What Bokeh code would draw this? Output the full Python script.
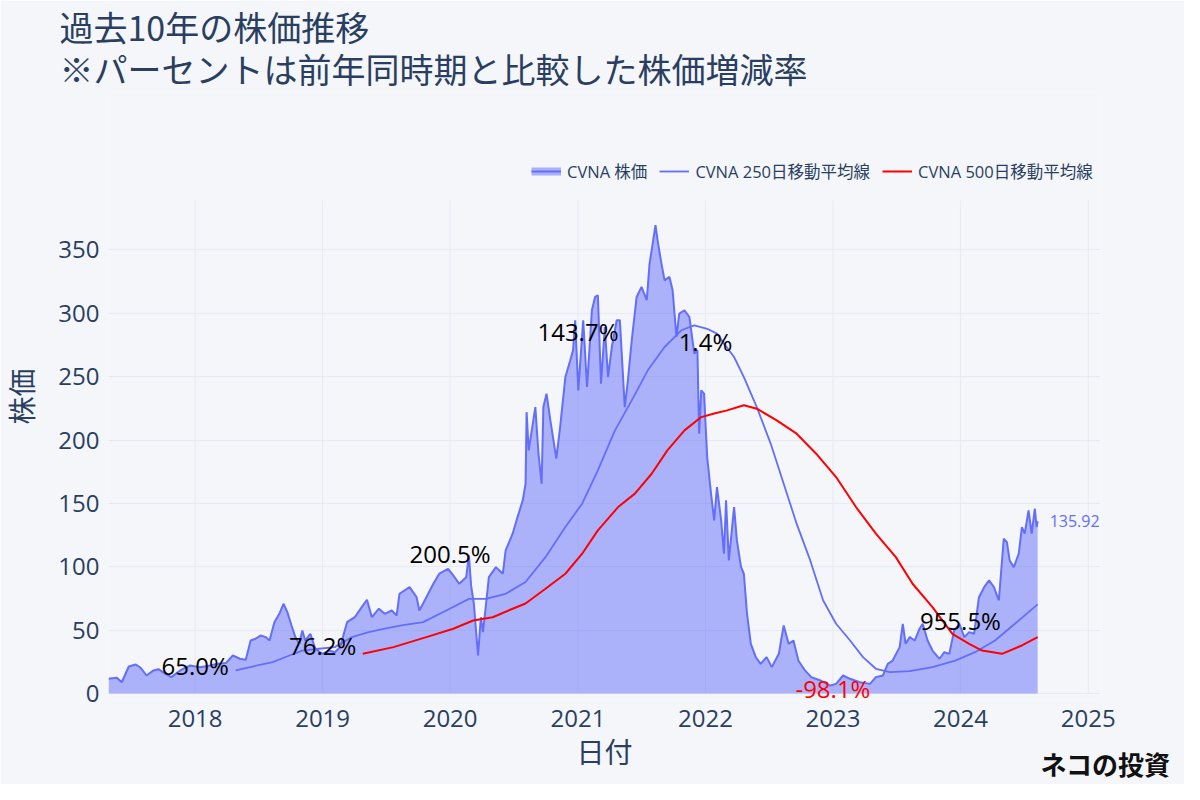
import pandas as pd
from bokeh.plotting import figure
from bokeh.models import (Range1d, FixedTicker, DatetimeTickFormatter, Label, Title,
                          Legend, LegendItem, ColumnDataSource)
from bokeh.embed import file_html
from bokeh.resources import INLINE

# ---------------- data ----------------
price_dates = [
    "2017-04-28","2017-05-22","2017-06-05","2017-06-25","2017-07-15","2017-07-29","2017-08-15","2017-09-04","2017-09-18","2017-10-08","2017-10-25","2017-11-19","2017-12-18",
    "2018-01-15","2018-02-13","2018-03-07","2018-03-30","2018-04-19","2018-05-09","2018-05-26","2018-06-09","2018-06-23","2018-07-08","2018-07-22","2018-08-02","2018-08-16","2018-08-30","2018-09-11","2018-09-22","2018-10-04","2018-10-15","2018-10-26","2018-11-04","2018-11-12","2018-11-27","2018-12-11","2018-12-31",
    "2019-01-20","2019-02-05","2019-02-20","2019-03-12","2019-04-03","2019-04-23","2019-05-08","2019-05-22","2019-06-11","2019-06-28","2019-07-18","2019-08-01","2019-08-09","2019-09-07","2019-09-27","2019-10-05","2019-10-25","2019-11-14","2019-12-01","2019-12-26",
    "2020-01-10","2020-01-27","2020-02-16","2020-02-24","2020-03-01","2020-03-09","2020-03-21","2020-03-29","2020-04-04","2020-04-12","2020-04-21","2020-05-11","2020-05-31","2020-06-08","2020-06-28","2020-07-12","2020-07-27","2020-08-04","2020-08-07","2020-08-13","2020-09-01","2020-09-10","2020-09-19","2020-09-24","2020-10-03","2020-10-14","2020-10-31","2020-11-11","2020-11-26","2020-12-10","2020-12-18","2020-12-24",
    "2021-01-02","2021-01-16","2021-01-27","2021-02-10","2021-02-19","2021-02-27","2021-03-08","2021-03-19","2021-03-28","2021-04-08","2021-04-22","2021-05-01","2021-05-15","2021-05-24","2021-06-04","2021-06-18","2021-07-02","2021-07-17","2021-07-25","2021-08-03","2021-08-11","2021-08-17","2021-08-28","2021-09-06","2021-09-20","2021-09-29","2021-10-10","2021-10-18","2021-11-02","2021-11-16","2021-11-30","2021-12-09","2021-12-14","2021-12-20","2021-12-28",
    "2022-01-06","2022-01-17","2022-01-26","2022-02-03","2022-02-15","2022-02-23","2022-03-01","2022-03-09","2022-03-24","2022-04-01","2022-04-13","2022-04-21","2022-04-30","2022-05-11","2022-05-25","2022-06-08","2022-06-25","2022-07-10","2022-07-30","2022-08-13","2022-08-27","2022-09-10","2022-09-24","2022-10-13","2022-10-31","2022-11-26","2022-12-24",
    "2023-01-10","2023-01-30","2023-02-19","2023-03-19","2023-04-17","2023-05-04","2023-05-24","2023-06-07","2023-06-21","2023-07-11","2023-07-20","2023-07-28","2023-08-09","2023-08-23","2023-09-06","2023-09-15","2023-09-29","2023-10-13","2023-11-02","2023-11-16","2023-11-30","2023-12-14","2023-12-29",
    "2024-01-12","2024-01-26","2024-02-09","2024-02-23","2024-03-09","2024-03-23","2024-04-06","2024-04-20","2024-05-04","2024-05-13","2024-05-21","2024-06-02","2024-06-16","2024-06-25","2024-07-03","2024-07-14","2024-07-23","2024-08-01","2024-08-06","2024-08-09",
]
price_values = [
    11.6, 12.4, 8.9, 21.3, 22.9, 20.3, 14.2, 18.2, 19.2, 15.5, 12.9, 18.2, 22.1,
    20.8, 22.1, 23.4, 24.0, 30.0, 27.4, 26.6, 41.8, 43.2, 45.8, 44.5, 41.8, 56.3, 62.9, 70.8, 64.2, 53.7, 44.5, 39.2, 49.7, 41.8, 47.1, 35.3, 31.3,
    33.9, 32.6, 36.6, 56.3, 60.2, 68.1, 74.0, 60.2, 66.9, 62.9, 65.5, 61.6, 78.7, 83.9, 76.0, 65.5, 76.0, 86.6, 94.5, 98.4,
    93.2, 86.6, 91.8, 108.9, 85.3, 70.8, 30.0, 60.2, 48.4, 68.1, 91.8, 99.7, 94.5, 112.9, 126.1, 139.2, 152.4, 165.5, 222.0, 191.8, 226.0, 189.2, 165.5, 226.0, 236.6, 215.5, 185.3, 210.2, 249.7, 262.9, 270.8, 294.5,
    239.2, 294.5, 241.8, 302.4, 312.9, 314.2, 244.5, 289.2, 249.7, 273.4, 294.5, 294.5, 226.0, 247.1, 278.7, 312.9, 320.8, 310.3, 339.2, 355.0, 369.5, 357.6, 339.2, 326.0, 328.7, 318.2, 281.3, 299.8, 302.4, 297.1, 268.2, 270.8, 205.0, 239.2, 236.6,
    186.5, 157.7, 136.6, 162.9, 136.6, 110.3, 152.4, 105.0, 147.1, 120.8, 99.7, 94.5, 62.9, 39.2, 28.7, 23.4, 28.7, 20.8, 31.3, 53.7, 39.2, 41.8, 26.0, 18.2, 12.9, 10.3, 6.3,
    7.6, 14.2, 11.6, 8.9, 7.6, 12.9, 14.2, 23.4, 26.0, 36.6, 55.0, 39.2, 44.5, 41.8, 51.1, 55.0, 41.8, 33.9, 27.4, 32.6, 31.3, 49.7, 55.0,
    44.5, 48.4, 47.1, 76.0, 83.9, 89.2, 83.9, 73.4, 122.1, 119.4, 105.0, 99.7, 110.3, 131.3, 126.1, 144.5, 126.1, 145.8, 131.3, 135.92,
]

ma250_dates = [
    "2018-04-27","2018-06-14","2018-08-11","2018-09-28","2018-11-04","2018-12-22","2019-02-05","2019-03-26","2019-05-13","2019-06-28","2019-08-15","2019-10-16","2019-12-21",
    "2020-02-24","2020-04-12","2020-06-08","2020-08-04","2020-09-30","2020-11-26","2021-01-13","2021-02-27","2021-04-17","2021-06-04","2021-07-20","2021-09-06","2021-10-24","2021-11-30",
    "2022-01-06","2022-02-03","2022-02-23","2022-03-24","2022-04-21","2022-05-28","2022-07-07","2022-08-13","2022-09-19","2022-10-28","2022-12-04",
    "2023-01-10","2023-02-19","2023-03-28","2023-05-04","2023-06-13","2023-08-09","2023-10-13","2023-12-17","2024-02-12","2024-04-09","2024-06-05","2024-08-09",
]
ma250_values = [
    18.2, 21.3, 24.7, 30.0, 33.9, 35.3, 36.6, 44.5, 48.4, 51.1, 53.7, 56.3, 65.5,
    74.7, 74.7, 78.7, 88.0, 107.6, 131.3, 149.8, 176.0, 207.6, 231.3, 255.0, 273.4, 286.6, 290.5,
    287.8, 284.0, 276.1, 265.5, 249.7, 226.0, 197.0, 165.5, 134.0, 105.0, 73.4,
    55.0, 41.8, 28.7, 19.5, 16.8, 17.6, 20.8, 26.0, 32.6, 41.8, 55.0, 70.3,
]

ma500_dates = [
    "2019-04-26","2019-07-23","2019-10-25","2020-01-10","2020-03-07","2020-05-02","2020-06-28","2020-08-04","2020-09-30","2020-11-26",
    "2021-01-13","2021-02-27","2021-04-26","2021-06-13","2021-07-31","2021-09-14","2021-11-02","2021-12-20",
    "2022-01-26","2022-03-04","2022-04-21","2022-05-28","2022-07-24","2022-09-19","2022-11-14",
    "2023-01-10","2023-03-08","2023-05-04","2023-06-30","2023-08-17","2023-10-13","2023-12-09",
    "2024-01-26","2024-03-03","2024-04-29","2024-06-25","2024-08-09",
]
ma500_values = [
    31.3, 36.6, 44.5, 51.1, 57.6, 60.2, 66.9, 71.0, 82.6, 94.5,
    110.3, 128.7, 147.1, 157.7, 173.4, 191.8, 207.6, 218.1,
    221.0, 223.4, 227.4, 224.7, 215.5, 205.0, 189.2,
    170.8, 147.1, 126.1, 107.6, 86.6, 68.1, 47.1,
    39.2, 33.9, 31.3, 37.9, 44.5,
]

ann_dates = ["2018-01-01", "2019-01-01", "2020-01-01", "2021-01-01", "2022-01-01", "2023-01-01", "2024-01-01"]
ann_values = [22.1, 37.9, 110.5, 285.8, 277.9, 3.9, 57.6]
ann_texts = ["65.0%", "76.2%", "200.5%", "143.7%", "1.4%", "-98.1%", "955.5%"]

year_ticks = [2018, 2019, 2020, 2021, 2022, 2023, 2024, 2025]
y_ticks = [0, 50, 100, 150, 200, 250, 300, 350]
x_start, x_end = "2017-04-28", "2025-02-05"
y_max = 389  # top of the value axis of the reference

title_lines = ["過去10年の株価推移", "※パーセントは前年同時期と比較した株価増減率"]
watermark = "ネコの投資"

# ---------------- layout / styles ----------------
W, H = 1184, 784
TOP, BOTTOM, LEFT, RIGHT = 92, 84, 100, 84
PLOT_TOP, PLOT_BOTTOM = 200, 693      # pixel rows of y_max and 0
FRAME_H = H - TOP - BOTTOM
per_px = y_max / (PLOT_BOTTOM - PLOT_TOP)
y_lo = -(H - BOTTOM - PLOT_BOTTOM) * per_px     # a little room under 0 for the labels
y_hi = y_lo + FRAME_H * per_px                  # room above y_max for the legend

BG = "#f4f6fa"
GRID = "#e6eaf2"
INK = "#2a3f5f"
BLUE = "#636efa"
RED = "#ff0000"
LATIN = "'Open Sans', 'Noto Sans CJK JP', sans-serif"
CJK = "'Noto Sans CJK JP', sans-serif"


def ms(d):
    return pd.Timestamp(d).value / 1e6


price_src = ColumnDataSource(dict(x=pd.to_datetime(price_dates), y=price_values,
                                  y0=[0] * len(price_values)))
ma250_src = ColumnDataSource(dict(x=pd.to_datetime(ma250_dates), y=ma250_values))
ma500_src = ColumnDataSource(dict(x=pd.to_datetime(ma500_dates), y=ma500_values))
tick_ms = [ms(f"{y}-01-01") for y in year_ticks]

p = figure(x_axis_type="datetime", width=W, height=H,
           x_range=Range1d(ms(x_start), ms(x_end)), y_range=Range1d(y_lo, y_hi),
           output_backend="svg", toolbar_location=None,
           background_fill_color=BG, border_fill_color=BG,
           min_border_left=LEFT, min_border_right=RIGHT, min_border_top=TOP,
           min_border_bottom=BOTTOM)
p.outline_line_color = None

# grid lines only over the value area
p.segment(x0=tick_ms, y0=[0] * len(tick_ms), x1=tick_ms, y1=[y_max] * len(tick_ms),
          line_color=GRID, line_width=1)

area_r = p.varea(x="x", y1="y0", y2="y", source=price_src, fill_color=BLUE, fill_alpha=0.5)
line_r = p.line(x="x", y="y", source=price_src, line_color=BLUE, line_width=2)
ma250_r = p.line(x="x", y="y", source=ma250_src, line_color=BLUE, line_width=1.8)
ma500_r = p.line(x="x", y="y", source=ma500_src, line_color=RED, line_width=2)
# legend swatch for the filled area (a single point draws no visible line in the plot)
swatch_r = p.line(x=[ms(price_dates[-1])], y=[0], line_color="#a9aff9", line_width=8)

# axes
p.xaxis.ticker = FixedTicker(ticks=tick_ms)
fmt = "%Y"
p.xaxis.formatter = DatetimeTickFormatter(years=fmt, months=fmt, days=fmt, hours=fmt, hourmin=fmt,
                                          minutes=fmt, minsec=fmt, seconds=fmt,
                                          milliseconds=fmt, microseconds=fmt)
p.yaxis.ticker = FixedTicker(ticks=y_ticks)
for ax in (p.xaxis[0], p.yaxis[0]):
    ax.axis_line_color = None
    ax.major_tick_line_color = None
    ax.minor_tick_line_color = None
    ax.major_label_text_font = LATIN
    ax.major_label_text_font_size = "24px"
    ax.major_label_text_color = INK
    ax.axis_label_text_font = LATIN
    ax.axis_label_text_font_size = "28px"
    ax.axis_label_text_font_style = "normal"
    ax.axis_label_text_color = INK
p.xaxis.axis_label = "日付"
p.yaxis.axis_label = "株価"
p.xaxis.major_label_standoff = 3
p.xaxis.axis_label_standoff = 3
p.yaxis.major_label_standoff = 3
p.yaxis.axis_label_standoff = 14
p.xgrid.visible = False
p.ygrid.grid_line_color = GRID

# legend, right aligned just above the value area
legend = Legend(items=[LegendItem(label="CVNA 株価", renderers=[swatch_r, line_r]),
                       LegendItem(label="CVNA 250日移動平均線", renderers=[ma250_r]),
                       LegendItem(label="CVNA 500日移動平均線", renderers=[ma500_r])],
                orientation="horizontal", location=(423, 517), padding=0, margin=0,
                spacing=12, glyph_width=30, glyph_height=22, label_standoff=6,
                label_height=20, background_fill_alpha=0, border_line_color=None,
                label_text_font=LATIN, label_text_font_size="16.5px", label_text_color=INK)
p.add_layout(legend, "center")

# title: two lines
p.add_layout(Title(text="\n".join(title_lines), align="left", offset=-49,
                   vertical_align="middle", standoff=-4, text_font=CJK, text_font_size="34px",
                   text_line_height=0.875, text_font_style="normal", text_color=INK), "above")

# watermark, bottom right
p.add_layout(Title(text=watermark, align="right", offset=-70, vertical_align="top",
                   standoff=-57, text_font=CJK, text_font_size="26px",
                   text_font_style="bold", text_color="#111111"), "below")

# percent annotations
for d, v, t in zip(ann_dates, ann_values, ann_texts):
    p.add_layout(Label(x=ms(d), y=v, text=t, text_align="center", text_baseline="middle",
                       text_font=LATIN, text_font_size="24px",
                       text_color=RED if t.startswith("-") else "black"))

# last value label
p.add_layout(Label(x=ms(price_dates[-1]), y=price_values[-1], text=f"{price_values[-1]:.2f}",
                   x_offset=12, text_align="left", text_baseline="middle",
                   text_font=LATIN, text_font_size="16px", text_color=BLUE))

open("out.html", "w").write(file_html(p, INLINE))
